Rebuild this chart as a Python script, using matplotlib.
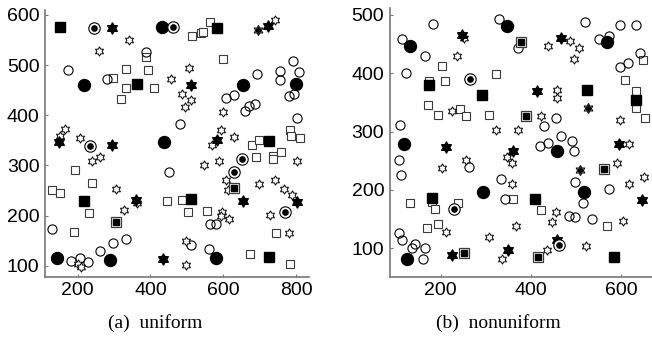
import numpy as np
import matplotlib.pyplot as plt
from matplotlib.path import Path

# ---- (a) uniform ----
a_open_circle = [(387, 526), (173, 490), (280, 472), (481, 382), (452, 287), (130, 173), (332, 153),
                 (298, 146), (260, 130), (181, 109), (205, 115), (227, 107), (511, 142), (694, 482),
                 (607, 435), (631, 441), (659, 409), (671, 419), (687, 422), (791, 508), (756, 489),
                 (756, 470), (809, 486), (795, 442), (782, 438), (802, 394), (565, 184), (580, 184),
                 (561, 133)]
a_filled_circle = [(433, 575), (217, 460), (437, 346), (655, 460), (799, 462), (144, 115), (289, 112),
                   (580, 115)]
a_circle_dot = [(246, 573), (463, 575), (234, 339), (651, 312), (630, 286), (770, 207)]
a_open_square = [(387, 516), (296, 475), (332, 492), (332, 455), (318, 433), (393, 491), (410, 454),
                 (513, 557), (565, 585), (540, 563), (545, 565), (600, 513), (192, 290), (130, 251),
                 (151, 245), (238, 265), (230, 206), (190, 168), (445, 230), (486, 231), (504, 207),
                 (678, 340), (699, 351), (785, 370), (786, 359), (811, 354), (691, 316), (736, 318),
                 (736, 313), (758, 326), (556, 210), (744, 166), (674, 124), (784, 103)]
a_filled_square = [(150, 575), (362, 462), (582, 573), (216, 229), (511, 233), (727, 349), (727, 117)]
a_square_dot = [(304, 188), (630, 256)]
a_open_star = [(341, 550), (259, 528), (457, 473), (506, 494), (486, 443), (512, 431), (496, 417),
               (150, 358), (166, 372), (205, 354), (238, 309), (261, 316), (742, 589), (600, 407),
               (593, 371), (631, 356), (570, 340), (802, 308), (547, 300), (589, 308), (304, 253),
               (327, 212), (362, 225), (200, 104), (208, 98), (497, 149), (497, 102), (609, 271),
               (614, 251), (698, 263), (742, 271), (768, 253), (790, 242), (597, 208), (594, 200),
               (617, 194), (729, 202), (781, 166)]
a_filled_star = [(293, 574), (512, 460), (148, 346), (294, 341), (723, 577), (582, 351), (359, 231),
                 (435, 114), (654, 230), (802, 228)]
a_star_dot = [(697, 569)]

# ---- (b) nonuniform ----
b_open_circle = [(183, 485), (114, 458), (164, 429), (122, 400), (110, 312), (107, 251), (263, 240),
                 (330, 493), (372, 443), (521, 487), (552, 458), (574, 463), (598, 483), (633, 482),
                 (642, 435), (616, 418), (598, 411), (456, 324), (429, 310), (468, 292), (438, 281),
                 (420, 275), (492, 283), (496, 266), (111, 226), (107, 127), (113, 115), (142, 108),
                 (137, 101), (166, 101), (161, 81), (333, 218), (342, 184), (485, 155), (498, 154),
                 (536, 150), (498, 213), (515, 177), (573, 201)]
b_filled_circle = [(131, 446), (118, 279), (347, 481), (568, 453), (457, 267), (294, 197), (126, 81),
                   (518, 196)]
b_circle_dot = [(264, 390), (230, 167), (463, 106)]
b_open_square = [(203, 413), (174, 387), (210, 387), (322, 399), (172, 346), (194, 328), (243, 338),
                 (256, 326), (306, 329), (648, 422), (608, 389), (633, 370), (633, 341), (654, 323),
                 (181, 180), (131, 178), (188, 168), (239, 177), (170, 135), (193, 141), (361, 184),
                 (422, 166), (568, 139)]
b_filled_square = [(174, 379), (292, 363), (524, 372), (633, 354), (181, 187), (409, 184), (585, 85)]
b_square_dot = [(379, 454), (390, 326), (562, 236), (252, 92), (416, 85)]
b_open_star = [(251, 460), (236, 430), (226, 336), (322, 303), (257, 251), (202, 237), (487, 456),
               (507, 443), (439, 447), (496, 425), (459, 372), (459, 357), (422, 327), (598, 319),
               (372, 302), (619, 278), (347, 257), (359, 246), (592, 246), (211, 128), (307, 119),
               (359, 211), (455, 162), (447, 145), (368, 138), (335, 81), (435, 97), (522, 104),
               (605, 147), (619, 211), (651, 223)]
b_filled_star = [(248, 466), (211, 274), (467, 461), (413, 370), (596, 279), (361, 266), (225, 88),
                 (350, 97), (459, 114), (647, 182)]
b_star_dot = [(526, 340), (509, 235)]

hexagram = Path.unit_regular_star(6, innerCircle=0.577)
sq_edge = '#3a3a3a'


def pts(ax, data, **kw):
    d = np.array(data, dtype=float)
    ax.plot(d[:, 0], d[:, 1], linestyle='none', **kw)


def draw_panel(ax, oc, fc, cd, osq, fsq, sqd, ost, fst, std):
    pts(ax, osq, marker='s', ms=5.4, mfc='white', mec=sq_edge, mew=0.8, zorder=2)
    pts(ax, oc, marker='o', ms=6.6, mfc='none', mec='black', mew=0.8, zorder=2)
    pts(ax, ost, marker=hexagram, ms=6.6, mfc='white', mec='black', mew=0.7, zorder=3)
    pts(ax, fc, marker='o', ms=8.6, mfc='black', mec='black', zorder=4)
    pts(ax, fsq, marker='s', ms=7.4, mfc='black', mec='black', zorder=4)
    pts(ax, fst, marker=hexagram, ms=8.0, mfc='black', mec='black', zorder=4)
    # highlighted nodes: open outline with a small solid mark inside
    pts(ax, cd, marker='o', ms=8.2, mfc='white', mec='black', mew=0.8, zorder=5)
    pts(ax, cd, marker='o', ms=3.8, mfc='black', mec='black', zorder=6)
    pts(ax, sqd, marker='s', ms=7.2, mfc='white', mec=sq_edge, mew=0.9, zorder=5)
    pts(ax, sqd, marker='s', ms=3.8, mfc='black', mec='black', zorder=6)
    pts(ax, std, marker=hexagram, ms=7.2, mfc='white', mec='black', mew=0.7, zorder=5)
    pts(ax, std, marker=hexagram, ms=4.0, mfc='black', mec='black', zorder=6)

    for s in ['top', 'right']:
        ax.spines[s].set_visible(False)
    for s in ['left', 'bottom']:
        ax.spines[s].set_color('#777777')
        ax.spines[s].set_linewidth(1.2)
    ax.tick_params(direction='in', length=2.5, color='#777777', labelsize=14, pad=4)
    for lab in ax.get_xticklabels() + ax.get_yticklabels():
        lab.set_fontfamily('Liberation Sans')


fig = plt.figure(figsize=(6.52, 3.41), dpi=100)
ax1 = fig.add_axes([0.069, 0.188, 0.405, 0.783])
ax2 = fig.add_axes([0.598, 0.188, 0.402, 0.789])

draw_panel(ax1, a_open_circle, a_filled_circle, a_circle_dot, a_open_square, a_filled_square,
           a_square_dot, a_open_star, a_filled_star, a_star_dot)
ax1.set_xlim(110, 836)
ax1.set_ylim(78, 610)
ax1.set_xticks([200, 400, 600, 800])
ax1.set_yticks([100, 200, 300, 400, 500, 600])

draw_panel(ax2, b_open_circle, b_filled_circle, b_circle_dot, b_open_square, b_filled_square,
           b_square_dot, b_open_star, b_filled_star, b_star_dot)
ax2.set_xlim(87, 669)
ax2.set_ylim(51, 512)
ax2.set_xticks([200, 400, 600])
ax2.set_yticks([100, 200, 300, 400, 500])

for ax in (ax1, ax2):
    for lab in ax.get_xticklabels() + ax.get_yticklabels():
        lab.set_fontfamily('Liberation Sans')

fig.text(0.238, 0.053, '(a)  uniform', ha='center', va='center', family='Liberation Serif', fontsize=14)
fig.text(0.765, 0.053, '(b)  nonuniform', ha='center', va='center', family='Liberation Serif', fontsize=14)

fig.savefig('out.png', dpi=100)
